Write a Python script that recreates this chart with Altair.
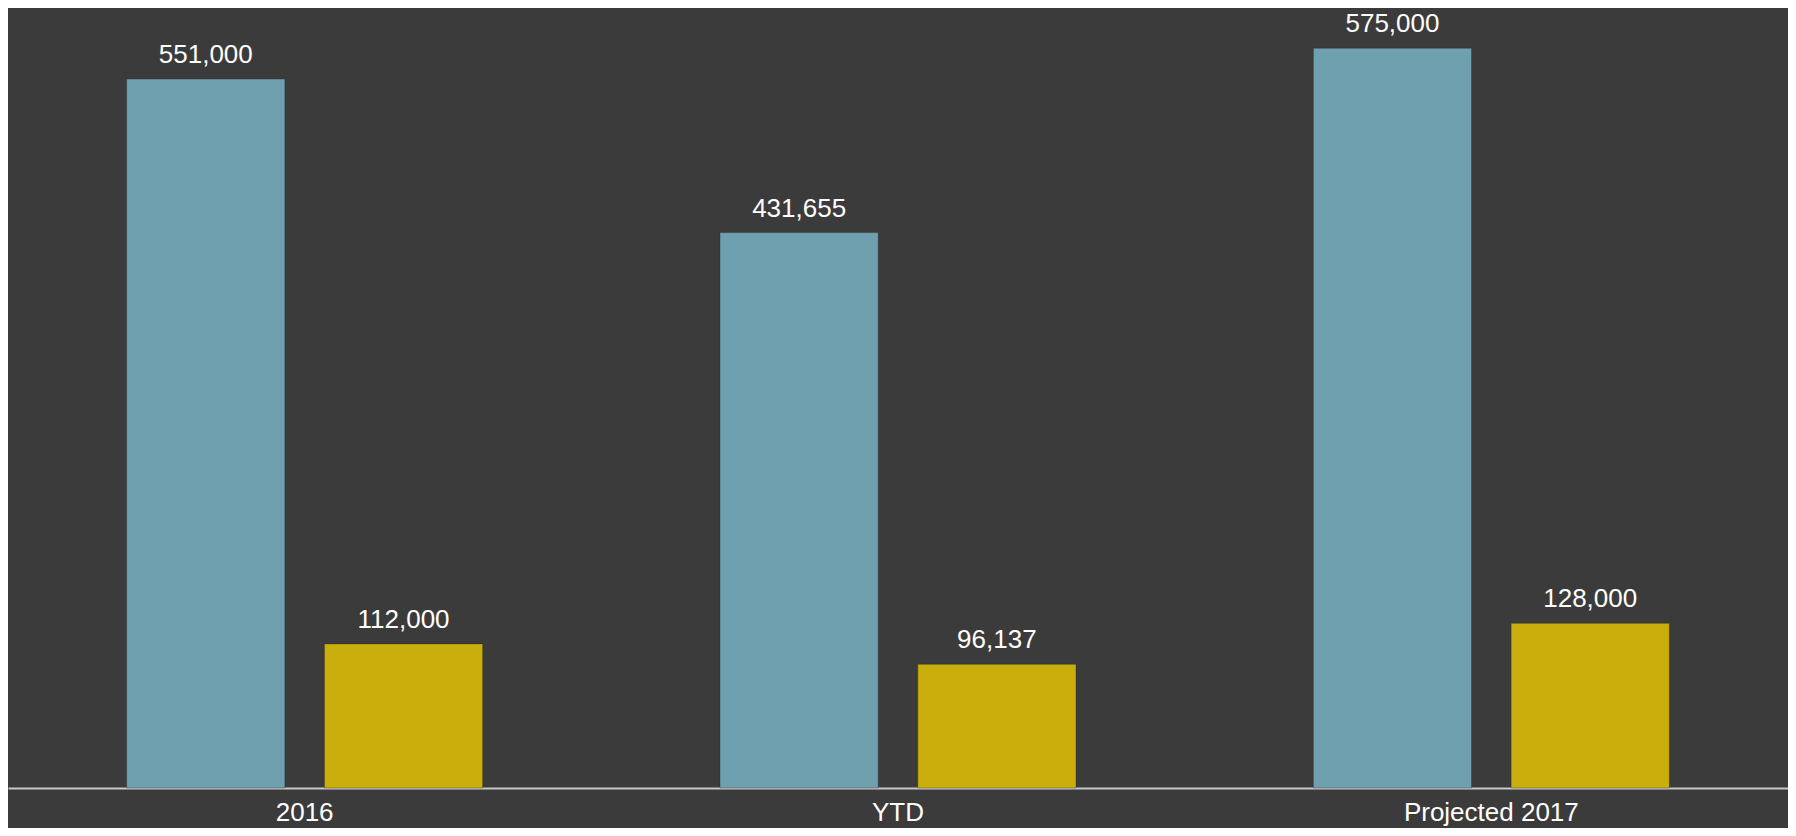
import altair as alt
import pandas as pd

categories = ["2016", "YTD", "Projected 2017"]
series_names = ["Series 1", "Series 2"]
series1_values = [551000, 431655, 575000]
series2_values = [112000, 96137, 128000]
series_colors = ["#6FA0B0", "#CAAE0C"]

rows = []
for i, cat in enumerate(categories):
    rows.append({"category": cat, "series": series_names[0], "value": series1_values[i]})
    rows.append({"category": cat, "series": series_names[1], "value": series2_values[i]})
df = pd.DataFrame(rows)

FONT = "Liberation Sans"

base = alt.Chart(df).encode(
    x=alt.X(
        "category:N",
        sort=categories,
        scale=alt.Scale(paddingInner=0.4, paddingOuter=0.2),
        axis=alt.Axis(
            title=None,
            labelAngle=0,
            labelFontSize=26,
            labelColor="#ffffff",
            labelFont=FONT,
            ticks=False,
            domainColor="#c8c8c8",
            domainWidth=2,
            labelPadding=11,
            grid=False,
        ),
    ),
    xOffset=alt.XOffset(
        "series:N",
        sort=series_names,
        scale=alt.Scale(paddingInner=0.2, paddingOuter=0),
    ),
    y=alt.Y(
        "value:Q",
        scale=alt.Scale(domain=[0, 600000], nice=False, zero=True),
        axis=None,
    ),
)

bars = base.mark_bar(strokeWidth=1, strokeOpacity=0.35, stroke="#222222").encode(
    color=alt.Color(
        "series:N",
        scale=alt.Scale(domain=series_names, range=series_colors),
        legend=None,
    )
)

labels = base.mark_text(
    baseline="alphabetic",
    dy=-16,
    fontSize=26,
    color="#ffffff",
    font=FONT,
).encode(text=alt.Text("value:Q", format=","))

chart = (
    alt.layer(bars, labels)
    .properties(
        width=1780,
        height=772,
        background="#3b3b3b",
        padding={"left": 0, "top": 8, "right": 0, "bottom": 40},
        autosize=alt.AutoSizeParams(type="none"),
    )
    .configure_view(stroke=None)
)

chart.save("out.html", embed_options={"renderer": "svg", "actions": False})
